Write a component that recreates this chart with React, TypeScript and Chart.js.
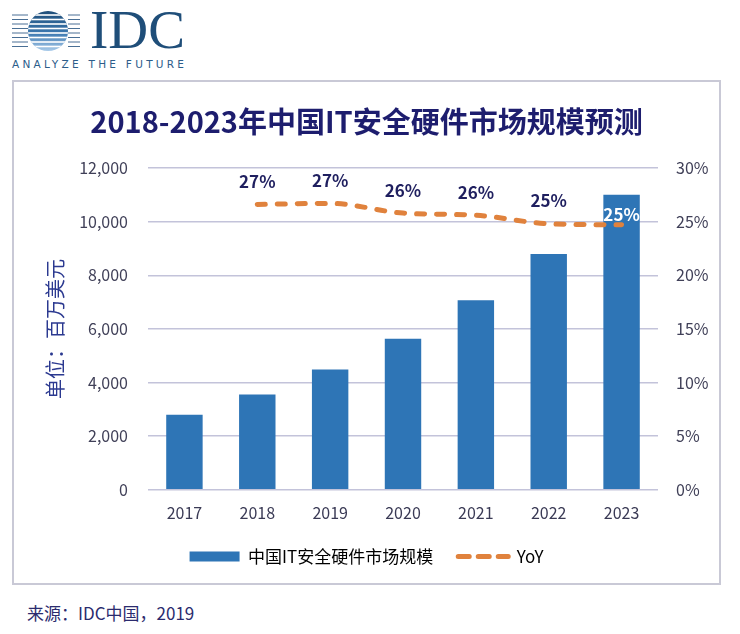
import {useEffect, useRef} from "react";
import {Chart, registerables} from "chart.js";

Chart.register(...registerables);

const FONT = "'Noto Sans CJK SC', 'Noto Sans', sans-serif";

const years = ['2017', '2018', '2019', '2020', '2021', '2022', '2023'];
// 单位：百万美元
const marketSize = [2800, 3550, 4490, 5630, 7070, 8790, 11000];
// YoY, %
const yoyValues = [null, 26.6, 26.7, 25.8, 25.6, 24.8, 24.7];

const leftTicks = [0, 2000, 4000, 6000, 8000, 10000, 12000];
const rightTicks = [0, 5, 10, 15, 20, 25, 30];

const BLUE = '#2E75B6';
const ORANGE = '#E0823D';

const yoyLabels = {
    id: 'yoyLabels',
    afterDatasetsDraw(chart: any) {
        const meta = chart.getDatasetMeta(1);
        const ctx = chart.ctx;
        ctx.save();
        ctx.font = `bold 17px ${FONT}`;
        ctx.textAlign = 'center';
        ctx.textBaseline = 'middle';
        meta.data.forEach((pt: any, i: number) => {
            const v = yoyValues[i];
            if (v == null) return;
            const last = i === yoyValues.length - 1;
            ctx.fillStyle = last ? '#FFFFFF' : '#1F1F5F';
            ctx.fillText(Math.round(v) + '%', pt.x, pt.y - (last ? 10 : 23));
        });
        ctx.restore();
    }
};

const Logo = () => {
    const lines = [13, 17.5, 22, 26.5, 31, 35.5, 40, 44.5];
    return (
        <svg width={200} height={76} style={{position: 'absolute', left: 0, top: 0}}>
            <defs>
                <clipPath id="ball">
                    <circle cx={48} cy={31} r={20}/>
                </clipPath>
                <linearGradient id="shade" x1="0" y1="0" x2="0" y2="1">
                    <stop offset="0" stopColor="#1F4E79"/>
                    <stop offset="0.55" stopColor="#3C78B0"/>
                    <stop offset="1" stopColor="#A9CBEA"/>
                </linearGradient>
            </defs>
            <circle cx={48} cy={31} r={20} fill="url(#shade)"/>
            <g clipPath="url(#ball)">
                {lines.map((y) => (
                    <rect key={y} x={20} y={y + 1.2} width={60} height={1.6} fill="#FFFFFF"/>
                ))}
            </g>
            {lines.map((y) => (
                <g key={'l' + y}>
                    <line x1={12} x2={28} y1={y + 2} y2={y + 2} stroke="#4A6F95" strokeWidth={1}/>
                    <line x1={68} x2={80} y1={y + 2} y2={y + 2} stroke="#4A6F95" strokeWidth={1}/>
                </g>
            ))}
            <text x={90} y={48} fontFamily="'Liberation Serif', 'DejaVu Serif', serif" fontSize={54}
                  fill="#1F4E79" textLength={95} lengthAdjust="spacingAndGlyphs">IDC</text>
            <text x={12} y={68} fontFamily="'DejaVu Sans', sans-serif" fontSize={10.5}
                  fill="#2C5D8A" textLength={172} lengthAdjust="spacing">ANALYZE THE FUTURE</text>
        </svg>
    );
};

const SecurityHardwareChart = () => {
    const canvasRef = useRef<HTMLCanvasElement>(null);

    useEffect(() => {
        const ctx = canvasRef.current;
        if (!ctx) return;

        const myChart = new Chart(ctx, {
            type: 'bar',
            data: {
                labels: years,
                datasets: [
                    {
                        type: 'bar',
                        label: '中国IT安全硬件市场规模',
                        data: marketSize,
                        backgroundColor: BLUE,
                        categoryPercentage: 1,
                        barPercentage: 0.5,
                        yAxisID: 'y',
                        order: 1
                    },
                    {
                        type: 'line',
                        label: 'YoY',
                        data: yoyValues,
                        borderColor: ORANGE,
                        borderWidth: 5,
                        borderDash: [8, 12],
                        borderCapStyle: 'round',
                        pointRadius: 0,
                        cubicInterpolationMode: 'monotone',
                        yAxisID: 'y1',
                        order: 0
                    }
                ] as any
            },
            options: {
                responsive: true,
                maintainAspectRatio: false,
                animation: false,
                layout: {padding: {top: 0, left: 0, right: 0, bottom: 10}},
                plugins: {
                    tooltip: {enabled: false},
                    title: {
                        display: true,
                        text: '2018-2023年中国IT安全硬件市场规模预测',
                        color: '#1D1D6E',
                        font: {family: FONT, size: 29, weight: 'bold'},
                        padding: {top: 24.6, bottom: 28.6}
                    },
                    legend: {
                        position: 'bottom',
                        labels: {
                            usePointStyle: true,
                            pointStyleWidth: 50,
                            boxHeight: 10,
                            padding: 25,
                            color: '#262660',
                            font: {family: FONT, size: 17},
                            generateLabels: () => [
                                {
                                    text: '中国IT安全硬件市场规模',
                                    fillStyle: BLUE,
                                    strokeStyle: BLUE,
                                    lineWidth: 0,
                                    pointStyle: 'rect',
                                    datasetIndex: 0
                                },
                                {
                                    text: 'YoY',
                                    fillStyle: ORANGE,
                                    strokeStyle: ORANGE,
                                    lineWidth: 5,
                                    lineDash: [11, 9],
                                    lineCap: 'round',
                                    pointStyle: 'line',
                                    datasetIndex: 1
                                }
                            ] as any
                        }
                    }
                },
                scales: {
                    x: {
                        grid: {display: false, drawTicks: false},
                        border: {display: false},
                        afterFit: (s: any) => {
                            s.height = s.height - 14;
                        },
                        ticks: {
                            color: '#3A3A55',
                            padding: 14,
                            font: {family: FONT, size: 16}
                        }
                    },
                    y: {
                        position: 'left',
                        min: 0,
                        max: 12000,
                        afterBuildTicks: (s: any) => {
                            s.ticks = leftTicks.map((v) => ({value: v}));
                        },
                        afterFit: (s: any) => {
                            s.width = 136;
                        },
                        grid: {color: '#C3C3DA', lineWidth: 1.5, drawTicks: false},
                        border: {display: false},
                        ticks: {
                            color: '#404058',
                            padding: 20,
                            font: {family: FONT, size: 16},
                            callback: (v: any) => Number(v).toLocaleString('en-US')
                        },
                        title: {
                            display: true,
                            text: '单位：百万美元',
                            color: '#2B3990',
                            font: {family: FONT, size: 20},
                            padding: {top: 31, bottom: 0}
                        }
                    },
                    y1: {
                        position: 'right',
                        min: 0,
                        max: 30,
                        afterBuildTicks: (s: any) => {
                            s.ticks = rightTicks.map((v) => ({value: v}));
                        },
                        afterFit: (s: any) => {
                            s.width = 63;
                        },
                        grid: {display: false, drawTicks: false},
                        border: {display: false},
                        ticks: {
                            color: '#404058',
                            padding: 18,
                            font: {family: FONT, size: 16},
                            callback: (v: any) => v + '%'
                        }
                    }
                }
            },
            plugins: [yoyLabels]
        });
        return () => {
            myChart.destroy();
        };
    }, []);

    return (
        <div style={{position: 'absolute', left: 12, top: 80, width: 709, height: 505}}>
            <canvas ref={canvasRef}></canvas>
        </div>
    );
};

const App = () => {
    return (
        <div style={{
            position: 'absolute', left: 0, top: 0, width: 740, height: 634,
            background: '#FFFFFF', fontFamily: FONT, overflow: 'hidden'
        }}>
            <Logo/>
            <div style={{
                position: 'absolute', left: 12, top: 80, width: 709, height: 505,
                border: '2px solid #C9C9D6', boxSizing: 'border-box'
            }}/>
            <SecurityHardwareChart/>
            <div style={{
                position: 'absolute', left: 27, top: 602, fontSize: 17, lineHeight: '22px',
                color: '#2B2B6E'
            }}>来源：IDC中国，2019
            </div>
        </div>
    );
};

export default App;
